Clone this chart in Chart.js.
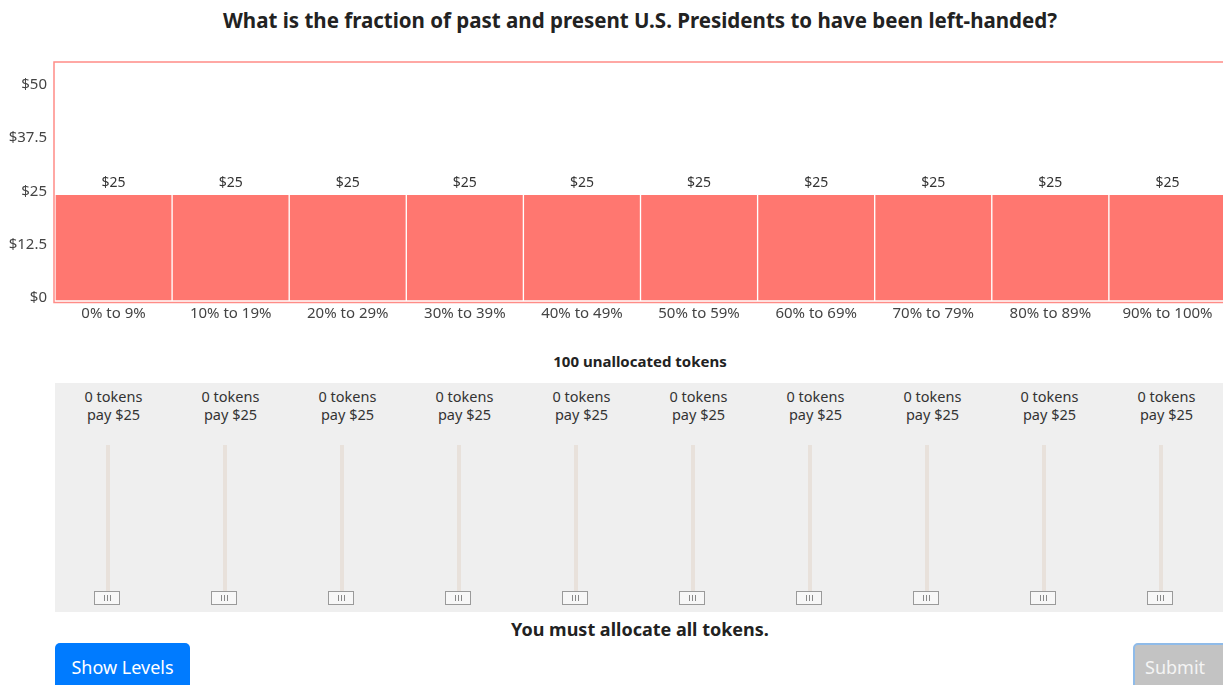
<!DOCTYPE html>
<html>
<head>
<meta charset="utf-8">
<script src="https://cdn.jsdelivr.net/npm/chart.js@4"></script>
<style>
  html, body { margin: 0; padding: 0; overflow: hidden; background: #fff; }
  body { width: 1223px; height: 685px; position: relative; font-family: "Noto Sans", sans-serif; color: #222; }
  #titulo { position: absolute; left: 55px; width: 1170px; top: 6px; text-align: center; font-weight: bold; font-size: 20.5px; }
  #lienzo { position: absolute; left: 0; top: 45px; width: 1226px; height: 285px; }
  #restantes { position: absolute; left: 55px; width: 1170px; top: 351px; text-align: center; font-weight: bold; font-size: 15px; }
  #panel { position: absolute; left: 55px; top: 383px; width: 1170px; height: 229px; background: #efefef; }
  .col { position: absolute; top: 0; width: 117px; height: 229px; }
  .txt { position: absolute; top: 4px; width: 117px; text-align: center; font-size: 14.5px; line-height: 18px; color: #333; }
  .pista { position: absolute; top: 62px; width: 4px; height: 150px; background: #e8e1db; }
  .mando { position: absolute; top: 208px; width: 24px; height: 12px; border: 1.5px solid #9a9a9a; background: #f7f7f7; }
  .mando span { position: absolute; top: 3px; width: 1px; height: 6px; background: #888; }
  #aviso { position: absolute; left: 55px; width: 1170px; top: 617px; text-align: center; font-weight: bold; font-size: 18px; }
  #niveles { position: absolute; left: 55px; top: 643px; width: 135px; height: 52px; background: #007bff; border-radius: 5px; color: #fff; font-size: 18px; line-height: 48px; text-align: center; }
  #enviar { position: absolute; left: 1133px; top: 643px; width: 100px; height: 52px; box-sizing: border-box; background: #c3c3c3; border: 2px solid #8fbbe9; border-radius: 5px; color: #f4f4f4; font-size: 18px; line-height: 44px; padding-left: 10px; }
</style>
</head>
<body>
<div id="titulo">What is the fraction of past and present U.S. Presidents to have been left-handed?</div>
<canvas id="lienzo" width="1226" height="285"></canvas>
<div id="restantes">100 unallocated tokens</div>
<div id="panel"></div>
<div id="aviso">You must allocate all tokens.</div>
<div id="niveles">Show Levels</div>
<div id="enviar">Submit</div>
<script>
const categorias = ['0% to 9%', '10% to 19%', '20% to 29%', '30% to 39%', '40% to 49%', '50% to 59%', '60% to 69%', '70% to 79%', '80% to 89%', '90% to 100%'];
const pagos = [25, 25, 25, 25, 25, 25, 25, 25, 25, 25];
const fichas = [0, 0, 0, 0, 0, 0, 0, 0, 0, 0];
const marcasY = [0, 12.5, 25, 37.5, 50];

const ROJO = 'rgb(255, 119, 112)';
const ctx = document.getElementById("lienzo");

// columnas con los deslizadores
const panel = document.getElementById("panel");
categorias.forEach((c, i) => {
  const col = document.createElement("div");
  col.className = "col";
  col.style.left = (i * 117) + "px";
  col.innerHTML = `<div class="txt">${fichas[i]} tokens<br>pay $${pagos[i]}</div>` +
    `<div class="pista" style="left:51px"></div>` +
    `<div class="mando" style="left:39px"><span style="left:9px"></span><span style="left:12px"></span><span style="left:15px"></span></div>`;
  panel.appendChild(col);
});

const marco = {
  id: 'marco',
  afterDraw(chart) {
    const a = chart.chartArea;
    const c = chart.ctx;
    c.save();
    c.strokeStyle = 'rgb(255, 140, 135)';
    c.lineWidth = 1.5;
    c.strokeRect(a.left - 1, a.top, a.right - a.left + 2, a.bottom - a.top + 1.5);
    c.restore();
  }
};

const etiquetas = {
  id: 'etiquetas',
  afterDatasetsDraw(chart) {
    const c = chart.ctx;
    const meta = chart.getDatasetMeta(0);
    c.save();
    c.font = '14px "Noto Sans"';
    c.fillStyle = '#333';
    c.textAlign = 'center';
    c.textBaseline = 'bottom';
    meta.data.forEach((barra, i) => {
      c.fillText('$' + pagos[i], barra.x, barra.y - 4);
    });
    c.restore();
  }
};

window.grafica = new Chart(ctx, {
  type: 'bar',
  data: {
    labels: categorias,
    datasets: [{
      data: pagos,
      backgroundColor: ROJO,
      borderColor: '#fff',
      borderWidth: 1,
      borderSkipped: false,
      barPercentage: 1,
      categoryPercentage: 1
    }]
  },
  options: {
    responsive: false,
    animation: false,
    layout: { padding: { top: 17, bottom: 5, right: 0, left: 0 } },
    plugins: { legend: { display: false }, tooltip: { enabled: false }, title: { display: false } },
    scales: {
      x: {
        grid: { display: false },
        border: { display: false },
        ticks: { color: '#444', font: { family: 'Noto Sans', size: 15 }, padding: -4, maxRotation: 0, autoSkip: false },
        afterFit(s) { s.height = 24; }
      },
      y: {
        min: 0,
        max: 56,
        grid: { display: false },
        border: { display: false },
        afterBuildTicks(s) { s.ticks = marcasY.map(v => ({ value: v })); },
        ticks: { color: '#444', font: { family: 'Noto Sans', size: 15 }, padding: 0, labelOffset: -3, callback: v => '$' + v },
        afterFit(s) { s.width = 55; }
      }
    }
  },
  plugins: [marco, etiquetas]
});
</script>
</body>
</html>
